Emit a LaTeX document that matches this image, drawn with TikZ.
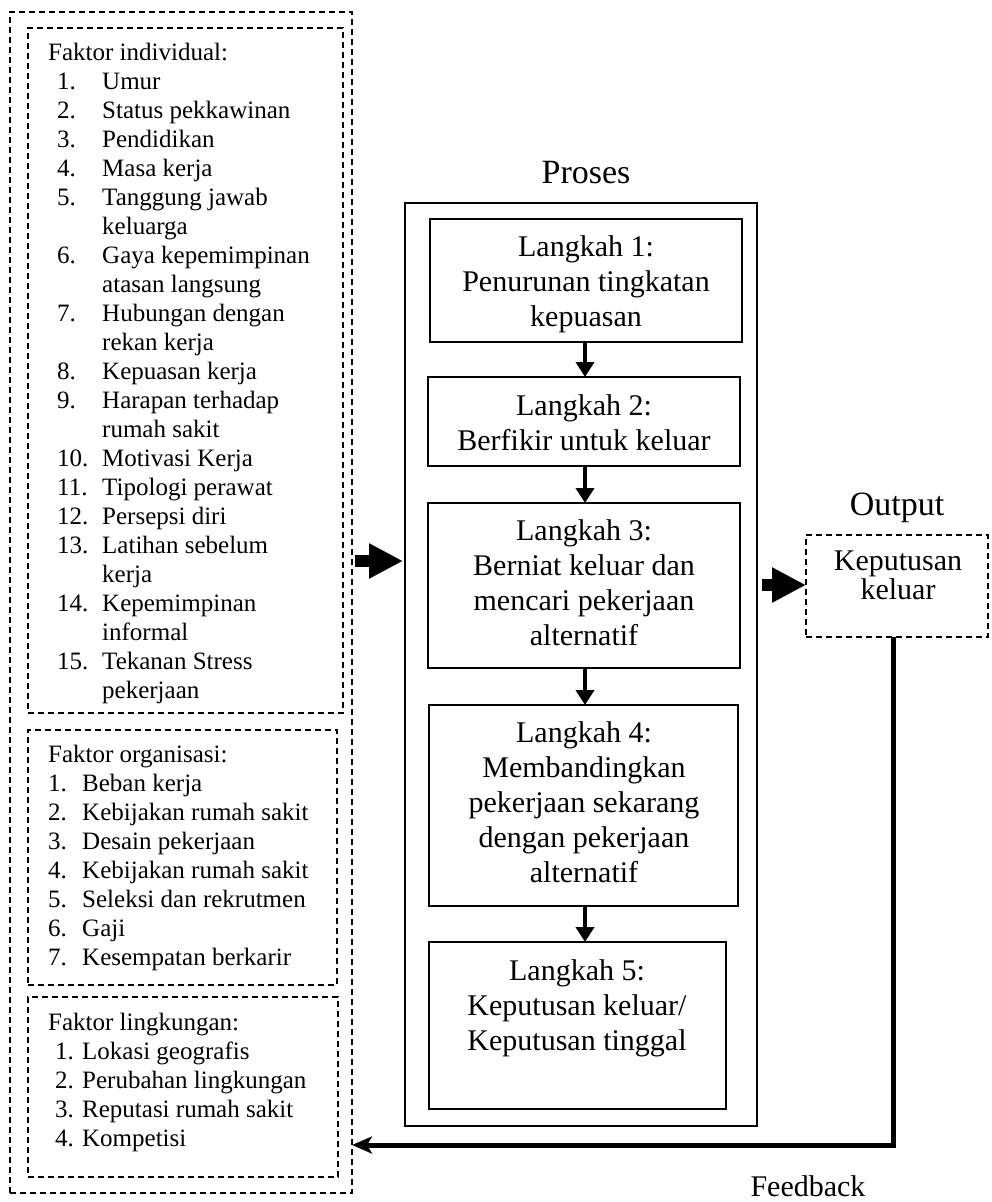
\documentclass[tikz,border=0pt]{standalone}
\usepackage{fontspec}
\setmainfont{Liberation Serif}
\usetikzlibrary{arrows.meta}
\begin{document}
\begin{tikzpicture}[x=1pt,y=-1pt,
  dbox/.style={draw, line width=1.8pt, dash pattern=on 6pt off 4pt, inner sep=0pt, outer sep=0pt, anchor=north west},
  sbox/.style={draw, line width=2.2pt, inner sep=0pt, outer sep=0pt, anchor=north west},
  listtxt/.style={anchor=base west, align=left, inner sep=0pt, font=\fontsize{25}{29}\selectfont},
  steptxt/.style={anchor=base, align=center, inner sep=0pt, font=\fontsize{30}{35}\selectfont},
  titletxt/.style={anchor=base, inner sep=0pt, font=\fontsize{34}{40}\selectfont},
  blockarrow/.style={line width=12pt, -{Triangle[length=34pt,width=33pt]}},
  steparrow/.style={line width=4.5pt, -{Triangle[length=15pt,width=18pt]}},
  fbline/.style={line width=5pt, line join=miter, -{Stealth[length=20pt,width=17pt,inset=5pt]}}
]
\useasboundingbox (0,0) rectangle (991,1202);

% left dashed boxes
\node[dbox, minimum width=342pt, minimum height=1181pt] (outer) at (10,12) {};
\node[dbox, minimum width=315pt, minimum height=685pt] (ind) at (28,28) {};
\node[dbox, minimum width=309pt, minimum height=255pt] (org) at (28,730) {};
\node[dbox, minimum width=310pt, minimum height=180pt] (ling) at (28,997) {};

% (multi-line nodes: base anchor = baseline of last line)
\node[listtxt] (indtxt) at (48,698) {Faktor individual:\\
\hspace*{9pt}\makebox[45pt][l]{1.}Umur\\
\hspace*{9pt}\makebox[45pt][l]{2.}Status pekkawinan\\
\hspace*{9pt}\makebox[45pt][l]{3.}Pendidikan\\
\hspace*{9pt}\makebox[45pt][l]{4.}Masa kerja\\
\hspace*{9pt}\makebox[45pt][l]{5.}Tanggung jawab\\
\hspace*{54pt}keluarga\\
\hspace*{9pt}\makebox[45pt][l]{6.}Gaya kepemimpinan\\
\hspace*{54pt}atasan langsung\\
\hspace*{9pt}\makebox[45pt][l]{7.}Hubungan dengan\\
\hspace*{54pt}rekan kerja\\
\hspace*{9pt}\makebox[45pt][l]{8.}Kepuasan kerja\\
\hspace*{9pt}\makebox[45pt][l]{9.}Harapan terhadap\\
\hspace*{54pt}rumah sakit\\
\hspace*{9pt}\makebox[45pt][l]{10.}Motivasi Kerja\\
\hspace*{9pt}\makebox[45pt][l]{11.}Tipologi perawat\\
\hspace*{9pt}\makebox[45pt][l]{12.}Persepsi diri\\
\hspace*{9pt}\makebox[45pt][l]{13.}Latihan sebelum\\
\hspace*{54pt}kerja\\
\hspace*{9pt}\makebox[45pt][l]{14.}Kepemimpinan\\
\hspace*{54pt}informal\\
\hspace*{9pt}\makebox[45pt][l]{15.}Tekanan Stress\\
\hspace*{54pt}pekerjaan};

\node[listtxt] (orgtxt) at (48,965) {Faktor organisasi:\\
\makebox[34pt][l]{1.}Beban kerja\\
\makebox[34pt][l]{2.}Kebijakan rumah sakit\\
\makebox[34pt][l]{3.}Desain pekerjaan\\
\makebox[34pt][l]{4.}Kebijakan rumah sakit\\
\makebox[34pt][l]{5.}Seleksi dan rekrutmen\\
\makebox[34pt][l]{6.}Gaji\\
\makebox[34pt][l]{7.}Kesempatan berkarir};

\node[listtxt] (lingtxt) at (48,1146) {Faktor lingkungan:\\
\hspace*{7pt}\makebox[27pt][l]{1.}Lokasi geografis\\
\hspace*{7pt}\makebox[27pt][l]{2.}Perubahan lingkungan\\
\hspace*{7pt}\makebox[27pt][l]{3.}Reputasi rumah sakit\\
\hspace*{7pt}\makebox[27pt][l]{4.}Kompetisi};

% process
\node[titletxt] (prosestitle) at (586,183) {Proses};
\node[sbox, minimum width=352pt, minimum height=923pt] (proses) at (405,203) {};
\node[sbox, minimum width=312pt, minimum height=123pt] (l1) at (430,219) {};
\node[sbox, minimum width=312pt, minimum height=89pt] (l2) at (428,377) {};
\node[sbox, minimum width=312pt, minimum height=165pt] (l3) at (428,503) {};
\node[sbox, minimum width=309pt, minimum height=201pt] (l4) at (429,705) {};
\node[sbox, minimum width=297pt, minimum height=167pt] (l5) at (429,942) {};

\node[steptxt] (t1) at (586,326) {Langkah 1:\\Penurunan tingkatan\\kepuasan};
\node[steptxt] (t2) at (584,450) {Langkah 2:\\Berfikir untuk keluar};
\node[steptxt] (t3) at (584,645) {Langkah 3:\\Berniat keluar dan\\mencari pekerjaan\\alternatif};
\node[steptxt] (t4) at (584,882) {Langkah 4:\\Membandingkan\\pekerjaan sekarang\\dengan pekerjaan\\alternatif};
\node[steptxt] (t5) at (577,1050) {Langkah 5:\\Keputusan keluar/\\Keputusan tinggal};

% output
\node[titletxt] (outtitle) at (897,515) {Output};
\node[dbox, minimum width=182pt, minimum height=102pt] (out) at (806,535) {};
\node[anchor=base, align=center, inner sep=0pt, font=\fontsize{30}{29}\selectfont] (outtxt) at (898,599) {Keputusan\\keluar};

\node[titletxt, font=\fontsize{30}{35}\selectfont] (fbtxt) at (808,1196) {Feedback};

% connectors
\coordinate (yin) at (0,561);
\coordinate (yout) at (0,585);
\coordinate (ax) at (585,0);
\coordinate (fbx) at (893,0);
\coordinate (fby) at (0,1145);

\draw[blockarrow, shorten <=3pt, shorten >=2pt] (outer.east |- yin) -- (proses.west |- yin);
\draw[blockarrow, shorten <=5pt] (proses.east |- yout) -- (out.west |- yout);

\draw[steparrow] (l1.south -| ax) -- (l2.north -| ax);
\draw[steparrow] (l2.south -| ax) -- (l3.north -| ax);
\draw[steparrow] (l3.south -| ax) -- (l4.north -| ax);
\draw[steparrow] (l4.south -| ax) -- (l5.north -| ax);

\draw[fbline] (out.south -| fbx) |- (outer.east |- fby);
\end{tikzpicture}
\end{document}
